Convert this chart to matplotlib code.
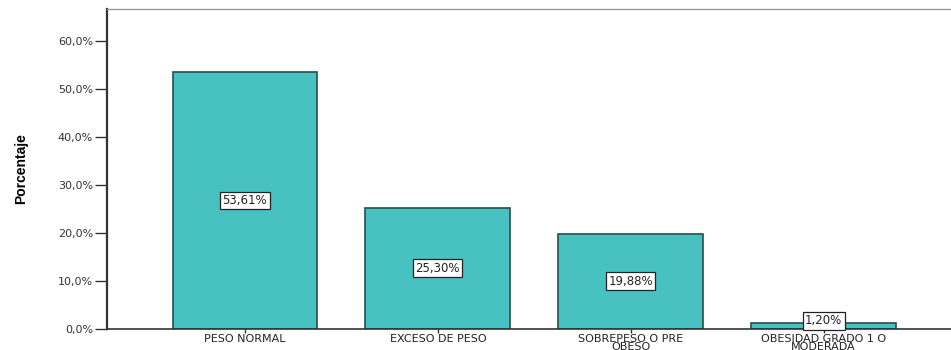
import matplotlib
matplotlib.use("Agg")
import matplotlib.pyplot as plt

# Data
categorias = ["PESO NORMAL", "EXCESO DE PESO", "SOBREPESO O PRE\nOBESO", "OBESIDAD GRADO 1 O\nMODERADA"]
porcentajes = [53.61, 25.30, 19.88, 1.20]
etiquetas = ["53,61%", "25,30%", "19,88%", "1,20%"]
yticks = [0, 10, 20, 30, 40, 50, 60]
ytick_labels = ["0,0%", "10,0%", "20,0%", "30,0%", "40,0%", "50,0%", "60,0%"]

plt.rcParams['font.family'] = ['DejaVu Sans']

fig = plt.figure(figsize=(9.51, 3.5), dpi=100)
ax = fig.add_axes([0.1125, 0.06, 0.8875, 0.914])

x = list(range(len(categorias)))
ax.bar(x, porcentajes, width=0.75, color="#48C1C1", edgecolor="#2b4d4d", linewidth=1.2)

# value boxes in the middle of each bar
for xi, v, lab in zip(x, porcentajes, etiquetas):
    ax.text(xi, max(v / 2, 1.7), lab, ha="center", va="center", fontsize=8.5, color="#222222",
            bbox=dict(boxstyle="square,pad=0.2", facecolor="white", edgecolor="#222222", linewidth=0.9))

ax.set_xlim(-0.715, 3.66)
ax.set_ylim(0, 66.7)
ax.set_yticks(yticks)
ax.set_yticklabels(ytick_labels, fontsize=8, color="#333333")
ax.set_xticks(x)
ax.set_xticklabels(categorias, fontsize=8, color="#222222", linespacing=0.8)
ax.tick_params(axis="y", length=9, width=1, pad=1, color="#333333")
ax.tick_params(axis="x", length=3, width=1, pad=0.5, color="#333333")

ax.set_ylabel("Porcentaje", fontsize=10, fontweight="bold",
              family=['Liberation Sans Narrow', 'Liberation Sans'])
ax.yaxis.set_label_coords(-0.093, 0.5)

ax.spines["left"].set_linewidth(1.6)
ax.spines["left"].set_color("#333333")
ax.spines["bottom"].set_linewidth(1.2)
ax.spines["bottom"].set_color("#333333")
ax.spines["top"].set_color("#999999")
ax.spines["top"].set_linewidth(1.0)
ax.spines["right"].set_visible(False)

plt.savefig("out.png", dpi=100)
plt.close()
